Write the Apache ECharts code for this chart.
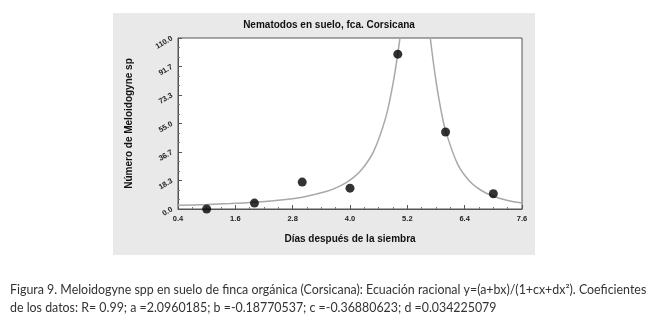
<!DOCTYPE html>
<html>
<head>
<meta charset="utf-8">
<title>Nematodos en suelo, fca. Corsicana</title>
<script src="https://cdn.jsdelivr.net/npm/echarts@6/dist/echarts.min.js"></script>
<style>
	html, body { margin: 0; padding: 0; background: #fff; }
	#chart { width: 653px; height: 325px; }
</style>
</head>
<body>
<div id="chart"></div>
<script>
// puntos observados (dias, numero)
var obsDias = [1, 2, 3, 4, 5, 6, 7];
var obsNumero = [0, 3.8, 17.3, 13.4, 99.6, 49.5, 9.8];

// curva ajustada
var curvaDias = [0.4, 1.0, 1.5, 2.0, 2.5, 3.0, 3.5, 3.75, 4.0, 4.25, 4.5, 4.75, 4.9, 5.0, 5.1, 5.2, 5.4, 5.6, 5.7, 5.8, 5.9, 6.0, 6.25, 6.5, 6.75, 7.0, 7.3, 7.6];
var curvaNumero = [2.36, 2.87, 3.46, 4.31, 5.57, 7.60, 11.2, 14.2, 18.6, 25.6, 37.4, 59.1, 80.6, 99.8, 122.7, 146.2, 167.8, 130.8, 105.0, 82.2, 64.2, 50.4, 29.0, 18.0, 11.9, 8.2, 5.5, 3.85];

// etiquetas de los ejes
var xTicks = [0.4, 1.6, 2.8, 4.0, 5.2, 6.4, 7.6];
var yTicks = [0, 18.3, 36.7, 55.0, 73.3, 91.7, 110.0];

var titulo = 'Nematodos en suelo, fca. Corsicana';
var ejeX = 'Días después de la siembra';
var ejeY = 'Número de Meloidogyne sp';
var pie1 = 'Figura 9. Meloidogyne spp en suelo de finca orgánica (Corsicana): Ecuación racional y=(a+bx)/(1+cx+dx²). Coeficientes';
var pie2 = 'de los datos: R= 0.99; a =2.0960185; b =-0.18770537; c =-0.36880623; d =0.034225079';

var myChart = echarts.init(document.getElementById('chart'));

var curva = curvaDias.map(function(d, i) { return [d, curvaNumero[i]]; });
var puntos = obsDias.map(function(d, i) { return [d, obsNumero[i]]; });

var font = 'Liberation Sans, Arial, sans-serif';

var option = {
	animation: false,
	backgroundColor: '#fff',
	title: {
		text: titulo,
		left: 324,
		top: 15,
		textAlign: 'center',
		textStyle: { fontFamily: font, fontSize: 10, fontWeight: 'bold', color: '#111' }
	},
	graphic: [
		{
			type: 'rect', z: -10, silent: true,
			shape: { x: 113, y: 13, width: 422, height: 242 },
			style: { fill: '#e9e9e9' }
		},
		{
			type: 'text', left: 10, top: 284,
			style: { text: pie1, fontFamily: 'Lato, sans-serif', fontSize: 12.4, fill: '#333' }
		},
		{
			type: 'text', left: 10, top: 302,
			style: { text: pie2, fontFamily: 'Lato, sans-serif', fontSize: 12.4, fill: '#333' }
		}
	],
	grid: {
		show: true,
		left: 178, right: 131, top: 38, bottom: 116,
		backgroundColor: '#fff',
		borderColor: '#555',
		borderWidth: 1
	},
	xAxis: {
		type: 'value',
		min: xTicks[0], max: xTicks[xTicks.length - 1],
		interval: 1.2,
		name: ejeX,
		nameLocation: 'middle',
		nameGap: 25,
		nameTextStyle: { fontFamily: font, fontSize: 10, fontWeight: 'bold', color: '#111' },
		axisLine: { lineStyle: { color: '#555' } },
		axisTick: { inside: true, length: 4, lineStyle: { color: '#555' } },
		minorTick: { show: true, splitNumber: 4, length: 2, lineStyle: { color: '#777' } },
		splitLine: { show: false },
		axisLabel: {
			fontFamily: font, fontSize: 7.5, fontWeight: 'bold', color: '#222', margin: 6,
			formatter: function(v) { return v.toFixed(1); }
		}
	},
	yAxis: {
		type: 'value',
		min: yTicks[0], max: yTicks[yTicks.length - 1],
		interval: 110 / 6,
		name: ejeY,
		nameLocation: 'middle',
		nameGap: 44,
		nameTextStyle: { fontFamily: font, fontSize: 10, fontWeight: 'bold', color: '#111' },
		axisLine: { lineStyle: { color: '#555' } },
		axisTick: { inside: true, length: 4, lineStyle: { color: '#555' } },
		minorTick: { show: true, splitNumber: 3, length: 2, lineStyle: { color: '#777' } },
		splitLine: { show: false },
		axisLabel: {
			fontFamily: font, fontSize: 7.5, fontWeight: 'bold', color: '#222', margin: 6, rotate: 30,
			formatter: function(v) { return v.toFixed(1); }
		}
	},
	series: [
		{
			type: 'line',
			data: curva,
			smooth: 0.3,
			showSymbol: false,
			clip: true,
			lineStyle: { color: '#a8a8a8', width: 1.5 },
			z: 2
		},
		{
			type: 'scatter',
			data: puntos,
			symbol: 'circle',
			symbolSize: 9,
			itemStyle: { color: '#000' },
			z: 3
		}
	]
};

myChart.setOption(option);
</script>
</body>
</html>
